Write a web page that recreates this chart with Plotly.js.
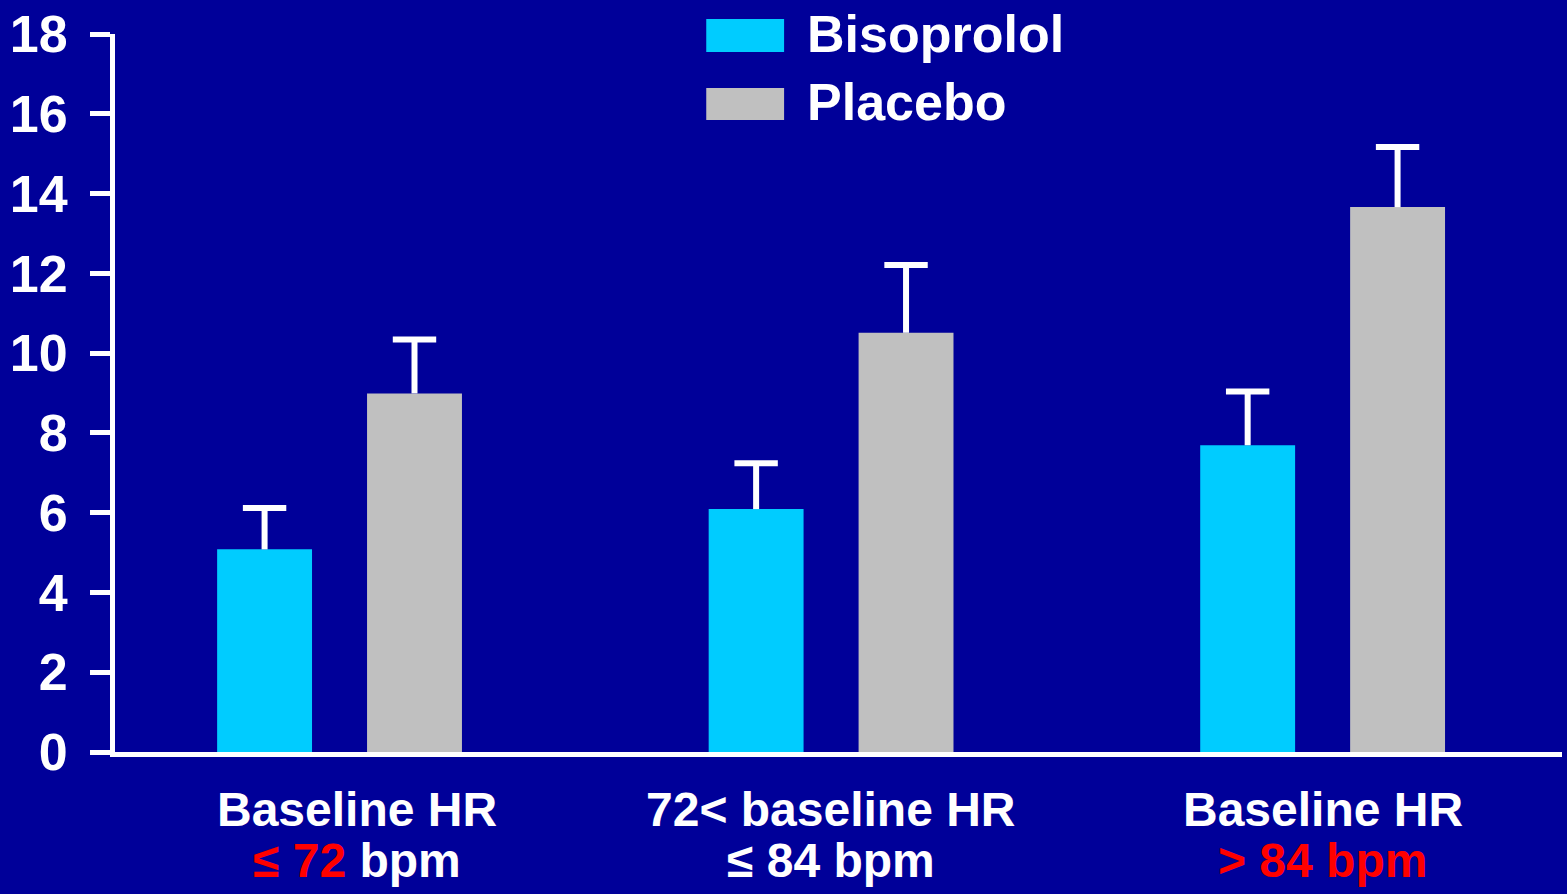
<!DOCTYPE html>
<html>
<head>
<meta charset="utf-8">
<script src="https://cdn.plot.ly/plotly-3.0.1.min.js"></script>
<style>html,body{margin:0;padding:0;background:#000099;}#chart{width:1567px;height:894px;}</style>
</head>
<body>
<div id="chart"></div>
<script>
// ---- data ----
const categories = [0, 1, 2];
const labelLine1 = ["Baseline HR", "72&lt; baseline HR", "Baseline HR"];
const labelLine2 = [
  "<span style='color:#ff0000'>≤ 72</span> bpm",
  "≤ 84 bpm",
  "<span style='color:#ff0000'>&gt; 84 bpm</span>"
];
const seriesNames = ["Bisoprolol", "Placebo"];
const bisoprolol = [5.08, 6.09, 7.69];
const bisoprololErr = [1.04, 1.15, 1.35];
const placebo = [8.99, 10.51, 13.66];
const placeboErr = [1.35, 1.70, 1.51];
const yTicks = [0, 2, 4, 6, 8, 10, 12, 14, 16, 18];

// ---- styles ----
const FONT = "Arial, 'Liberation Sans', sans-serif";
const colors = ["#00ccff", "#c0c0c0"];
const bg = "#000099";

function errStem(arr) {
  return {type: 'data', array: arr, arrayminus: arr.map(() => 0), symmetric: false,
          visible: true, color: '#ffffff', thickness: 6, width: 0};
}
function capTrace(vals, errs, grp) {
  return {type: 'scatter', mode: 'markers', x: categories, y: vals.map((v, i) => v + errs[i]),
          offsetgroup: grp, showlegend: false, hoverinfo: 'skip',
          marker: {symbol: 'line-ew', size: 31, color: '#ffffff', line: {color: '#ffffff', width: 6}}};
}

const traces = [
  {type: 'bar', name: seriesNames[0], x: categories, y: bisoprolol, offsetgroup: 'a',
   marker: {color: colors[0], line: {width: 0}}, error_y: errStem(bisoprololErr), hoverinfo: 'y'},
  {type: 'bar', name: seriesNames[1], x: categories, y: placebo, offsetgroup: 'b',
   marker: {color: colors[1], line: {width: 0}}, error_y: errStem(placeboErr), hoverinfo: 'y'},
  capTrace(bisoprolol, bisoprololErr, 'a'),
  capTrace(placebo, placeboErr, 'b')
];

const annotations = [];
const labelShift = [17, 0, 0];
categories.forEach((c, i) => {
  annotations.push({xref: 'x', yref: 'paper', x: c, y: 0, yanchor: 'middle', xanchor: 'center',
    yshift: -57, xshift: labelShift[i], showarrow: false, text: labelLine1[i],
    font: {family: FONT, size: 48, color: '#ffffff', weight: 'bold'}});
  annotations.push({xref: 'x', yref: 'paper', x: c, y: 0, yanchor: 'middle', xanchor: 'center',
    yshift: -108, xshift: labelShift[i], showarrow: false, text: labelLine2[i],
    font: {family: FONT, size: 48, color: '#ffffff', weight: 'bold'}});
});

// legend drawn as swatches + text
const legendRows = [{y0: 0.9749, y1: 1.0209}, {y0: 0.8802, y1: 0.9248}];
const shapes = [];
seriesNames.forEach((n, i) => {
  shapes.push({type: 'rect', xref: 'paper', yref: 'paper', x0: 0.4086, x1: 0.4624,
    y0: legendRows[i].y0, y1: legendRows[i].y1, fillcolor: colors[i], line: {width: 0}});
  annotations.push({xref: 'paper', yref: 'paper', x: 0.4768, xanchor: 'left',
    y: (legendRows[i].y0 + legendRows[i].y1) / 2, yanchor: 'middle', yshift: 2,
    showarrow: false, text: n, font: {family: FONT, size: 52, color: '#ffffff', weight: 'bold'}});
});

const layout = {
  width: 1567, height: 894,
  paper_bgcolor: bg, plot_bgcolor: bg,
  margin: {l: 115, r: 5, t: 34, b: 142, pad: 0},
  barmode: 'group', bargap: 0.39, bargroupgap: 0.367,
  scattermode: 'group', scattergap: 0.39,
  showlegend: false,
  xaxis: {range: [-0.4568, 2.487], tickvals: categories, showticklabels: false, ticks: '',
          showline: true, linecolor: '#ffffff', linewidth: 5, showgrid: false, zeroline: false,
          fixedrange: true},
  yaxis: {range: [0, 18], tickvals: yTicks, ticktext: yTicks.map(String), ticks: 'outside',
          ticklen: 20, tickwidth: 5, tickcolor: '#ffffff', showline: true, linecolor: '#ffffff',
          linewidth: 5, showgrid: false, zeroline: false, fixedrange: true, ticklabelstandoff: 12,
          tickfont: {family: FONT, size: 52, color: '#ffffff', weight: 'bold'}},
  annotations: annotations,
  shapes: shapes,
  font: {family: FONT, color: '#ffffff'}
};

Plotly.newPlot('chart', traces, layout, {displayModeBar: false, staticPlot: true});
</script>
</body>
</html>
